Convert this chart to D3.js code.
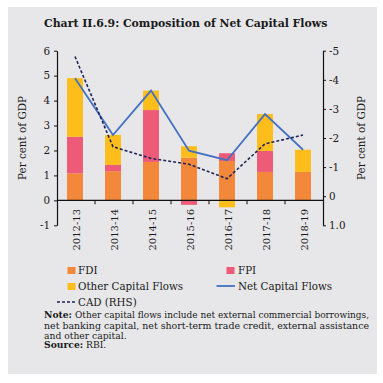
<!DOCTYPE html>
<html>
<head>
<meta charset="utf-8">
<script src="https://cdn.jsdelivr.net/npm/d3@7"></script>
<style>
  body { margin: 0; background: #fff; }
  svg text { font-family: "DejaVu Serif", serif; fill: #1a1a1a; }
</style>
</head>
<body>
<div id="chart"></div>
<script>
// data
const years = ['2012-13', '2013-14', '2014-15', '2015-16', '2016-17', '2017-18', '2018-19'];
const fdi = [1.08, 1.17, 1.54, 1.71, 1.58, 1.14, 1.14];
const fpi = [1.47, 0.25, 2.08, -0.18, 0.31, 0.84, 0];
const other = [2.35, 1.2, 0.78, 0.46, -0.28, 1.48, 0.89];
const net = [4.9, 2.62, 4.4, 1.99, 1.61, 3.46, 2.03];
const cad = [-4.8, -1.7, -1.3, -1.1, -0.6, -1.8, -2.1];
const leftTicks = [-1, 0, 1, 2, 3, 4, 5, 6];
const leftLabels = ['-1', '0', '1', '2', '3', '4', '5', '6'];
const rightTicks = [1, 0, -1, -2, -3, -4, -5];
const rightLabels = ['1.0', '0', '-1', '-2', '-3', '-4', '-5'];

const colors = { FDI: '#f3873a', FPI: '#ee5b78', Other: '#fdbd1b' };

const W = 383, H = 383;
const plotL = 57, plotR = 323, plotT = 50.7, plotB = 225.3;

const svg = d3.select('#chart').append('svg')
  .attr('width', W)
  .attr('height', H);

// grey panel
svg.append('rect')
  .attr('x', 8).attr('y', 7)
  .attr('width', 369).attr('height', 367)
  .attr('fill', '#e7e7e9');

svg.append('text')
  .attr('x', 44).attr('y', 27)
  .attr('font-size', 10.9)
  .attr('font-weight', 'bold')
  .text('Chart II.6.9: Composition of Net Capital Flows');

// scales
const x = d3.scaleBand().domain(years).range([plotL, plotR]);
const yL = d3.scaleLinear().domain([-1, 6]).range([plotB, plotT]);
const yR = d3.scaleLinear().domain([1, -5]).range([plotB, plotT]);
const barW = x.bandwidth() * 0.42;

// stacked bars
const table = years.map((d, i) => ({ year: d, FDI: fdi[i], FPI: fpi[i], Other: other[i] }));
const series = d3.stack()
  .keys(['FDI', 'FPI', 'Other'])
  .offset(d3.stackOffsetDiverging)(table);

svg.append('g')
  .selectAll('g')
  .data(series)
  .join('g')
  .attr('fill', d => colors[d.key])
  .selectAll('rect')
  .data(d => d)
  .join('rect')
  .attr('x', d => x(d.data.year) + (x.bandwidth() - barW) / 2 - 1)
  .attr('width', barW)
  .attr('y', d => yL(Math.max(d[0], d[1])))
  .attr('height', d => Math.abs(yL(d[0]) - yL(d[1])));

// x axis at zero
const xAxis = svg.append('g').attr('transform', `translate(0,${yL(0)})`);
xAxis.append('line')
  .attr('x1', plotL).attr('x2', plotR)
  .attr('stroke', '#111').attr('stroke-width', 1.2);
xAxis.selectAll('.tick')
  .data(years.slice(0, -1))
  .join('line')
  .attr('x1', d => x(d) + x.bandwidth())
  .attr('x2', d => x(d) + x.bandwidth())
  .attr('y1', 0).attr('y2', 4)
  .attr('stroke', '#111');

svg.append('g')
  .selectAll('text')
  .data(years)
  .join('text')
  .attr('transform', d => `translate(${x(d) + x.bandwidth() / 2},209) rotate(-90)`)
  .attr('text-anchor', 'end')
  .attr('dy', '0.35em')
  .attr('font-size', 10)
  .text(d => d);

// left axis
const gL = svg.append('g')
  .attr('transform', `translate(${plotL},0)`)
  .call(d3.axisLeft(yL)
    .tickValues(leftTicks)
    .tickSize(3)
    .tickSizeOuter(0)
    .tickPadding(4)
    .tickFormat((d, i) => leftLabels[i]));

// right axis
const gR = svg.append('g')
  .attr('transform', `translate(${plotR},0)`)
  .call(d3.axisRight(yR)
    .tickValues(rightTicks)
    .tickSize(3)
    .tickSizeOuter(0)
    .tickPadding(3)
    .tickFormat((d, i) => rightLabels[i]));

[gL, gR].forEach(g => {
  g.select('.domain').attr('stroke', '#111').attr('stroke-width', 1.2);
  g.selectAll('.tick line').attr('stroke', '#111');
  g.selectAll('.tick text')
    .attr('font-family', '"DejaVu Serif", serif')
    .attr('font-size', 10.4)
    .attr('fill', '#1a1a1a');
});

// axis titles
svg.append('text')
  .attr('transform', 'translate(26,138) rotate(-90)')
  .attr('text-anchor', 'middle')
  .attr('font-size', 10.4)
  .text('Per cent of GDP');
svg.append('text')
  .attr('transform', 'translate(365,138) rotate(-90)')
  .attr('text-anchor', 'middle')
  .attr('font-size', 10.4)
  .text('Per cent of GDP');

// net capital flows line
const cx = d => x(d) + x.bandwidth() / 2 - 1;
svg.append('path')
  .datum(net)
  .attr('fill', 'none')
  .attr('stroke', '#4471c1')
  .attr('stroke-width', 1.8)
  .attr('d', d3.line().x((d, i) => cx(years[i])).y(d => yL(d)));

// CAD line on RHS
svg.append('path')
  .datum(cad)
  .attr('fill', 'none')
  .attr('stroke', '#1f2559')
  .attr('stroke-width', 1.6)
  .attr('stroke-dasharray', '3,2')
  .attr('d', d3.line().x((d, i) => cx(years[i])).y(d => yR(d)));

// legend
const legend = svg.append('g').attr('font-size', 10.3);
const swatch = (lx, ly, c) => legend.append('rect')
  .attr('x', lx).attr('y', ly).attr('width', 8).attr('height', 7).attr('fill', c);
const label = (lx, ly, t) => legend.append('text').attr('x', lx).attr('y', ly).text(t);

swatch(67.5, 267, colors.FDI);
label(78, 274, 'FDI');
swatch(226.5, 267, colors.FPI);
label(238, 274, 'FPI');
swatch(67.5, 283, colors.Other);
label(78, 290, 'Other Capital Flows');
legend.append('line')
  .attr('x1', 216.5).attr('x2', 235).attr('y1', 286).attr('y2', 286)
  .attr('stroke', '#4471c1').attr('stroke-width', 1.8);
label(238, 290, 'Net Capital Flows');
legend.append('line')
  .attr('x1', 57).attr('x2', 76).attr('y1', 302).attr('y2', 302)
  .attr('stroke', '#1f2559').attr('stroke-width', 1.6)
  .attr('stroke-dasharray', '3,2');
label(78, 306, 'CAD (RHS)');

// note and source
const noteSize = 9.2;
const note = svg.append('g').attr('font-size', noteSize);
const noteHead = note.append('text')
  .attr('x', 44).attr('y', 318)
  .attr('font-weight', 'bold')
  .text('Note:');
const headW = noteHead.node().getComputedTextLength();
note.append('text')
  .attr('x', 44 + headW + 3).attr('y', 318)
  .attr('textLength', 369 - 44 - headW - 3)
  .attr('lengthAdjust', 'spacingAndGlyphs')
  .text('Other capital flows include net external commercial borrowings,');
note.append('text')
  .attr('x', 44).attr('y', 328.5)
  .attr('textLength', 325)
  .attr('lengthAdjust', 'spacingAndGlyphs')
  .text('net banking capital, net short-term trade credit, external assistance');
note.append('text')
  .attr('x', 44).attr('y', 338.5)
  .text('and other capital.');
const src = note.append('text').attr('x', 44).attr('y', 348);
src.append('tspan').attr('font-weight', 'bold').text('Source:');
src.append('tspan').text(' RBI.');
</script>
</body>
</html>
